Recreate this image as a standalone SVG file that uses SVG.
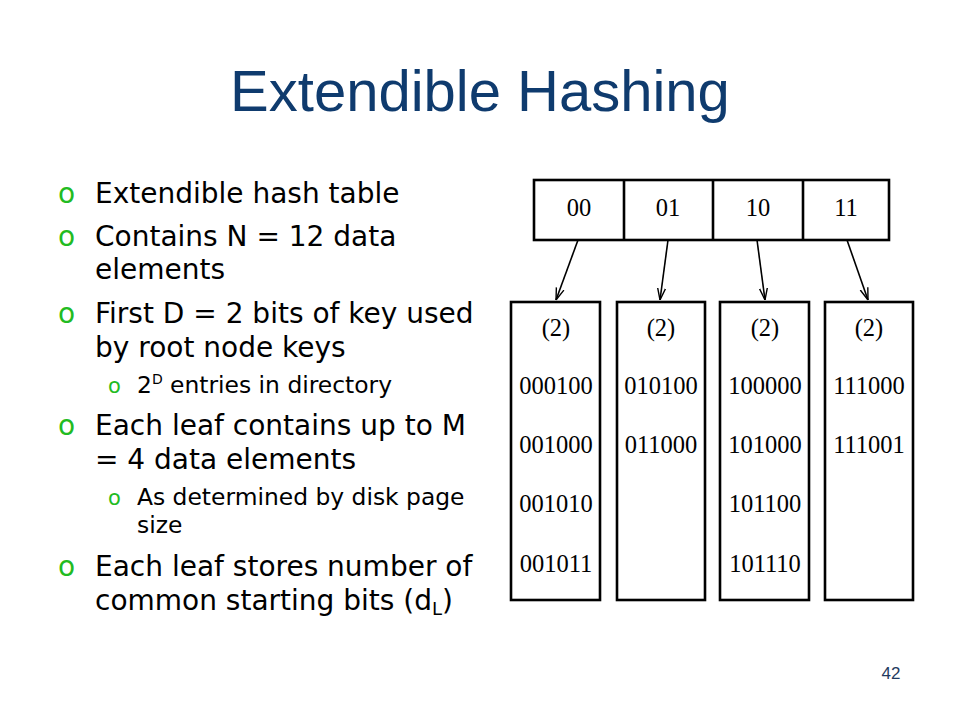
<svg xmlns="http://www.w3.org/2000/svg" width="960" height="720" viewBox="0 0 960 720">
<defs>
<style>
.title{font-family:"Liberation Sans",Arial,sans-serif;font-size:58px;fill:#0f3b6e;text-anchor:middle}
.b{font-family:"DejaVu Sans",Verdana,sans-serif;font-size:28px;fill:#000}
.s{font-family:"DejaVu Sans",Verdana,sans-serif;font-size:23.4px;fill:#000}
.bo{font-family:"DejaVu Sans",Verdana,sans-serif;font-size:28px;fill:#22bb22}
.so{font-family:"DejaVu Sans",Verdana,sans-serif;font-size:21px;fill:#22bb22}
.box{fill:#fff;stroke:#000;stroke-width:2.6}
.t{font-family:"Liberation Serif","Times New Roman",serif;font-size:24.5px;fill:#000;text-anchor:middle}
.conn{stroke:#000;stroke-width:1.6;fill:none}
.pg{font-family:"Liberation Sans",Arial,sans-serif;font-size:17px;fill:#1f3a60;text-anchor:middle}
</style>
<marker id="arr" viewBox="0 0 12 10" refX="12" refY="5" markerWidth="12" markerHeight="10" markerUnits="userSpaceOnUse" orient="auto">
<path d="M0,1 L12,5 L0,9" fill="none" stroke="#000" stroke-width="1.4"/>
</marker>
</defs>
<rect width="960" height="720" fill="#fff"/>
<text class="title" x="480" y="111">Extendible Hashing</text>

<g id="bullets">
<text class="bo" x="58" y="203">o</text><text class="b" x="95" y="203">Extendible hash table</text>
<text class="bo" x="58" y="246">o</text><text class="b" x="95" y="246">Contains N = 12 data</text>
<text class="b" x="95" y="279">elements</text>
<text class="bo" x="58" y="323">o</text><text class="b" x="95" y="323">First D = 2 bits of key used</text>
<text class="b" x="95" y="357">by root node keys</text>
<text class="so" x="108" y="393">o</text><text class="s" x="137" y="393">2<tspan font-size="14" dy="-9">D</tspan><tspan dy="9"> entries in directory</tspan></text>
<text class="bo" x="58" y="435">o</text><text class="b" x="95" y="435">Each leaf contains up to M</text>
<text class="b" x="95" y="469">= 4 data elements</text>
<text class="so" x="108" y="505">o</text><text class="s" x="137" y="505">As determined by disk page</text>
<text class="s" x="137" y="533">size</text>
<text class="bo" x="58" y="576">o</text><text class="b" x="95" y="576">Each leaf stores number of</text>
<text class="b" x="95" y="610">common starting bits (d<tspan font-size="18" dy="5">L</tspan><tspan dy="-5">)</tspan></text>
</g>

<g id="directory">
<rect class="box" x="534" y="180" width="355" height="60"/>
<line class="box" x1="624" y1="180" x2="624" y2="240"/>
<line class="box" x1="713" y1="180" x2="713" y2="240"/>
<line class="box" x1="803" y1="180" x2="803" y2="240"/>
<text class="t" x="579" y="216">00</text>
<text class="t" x="668" y="216">01</text>
<text class="t" x="758" y="216">10</text>
<text class="t" x="846" y="216">11</text>
</g>

<g id="leaf00">
<rect class="box" x="511" y="302" width="89" height="298"/>
<text class="t" x="556" y="336">(2)</text>
<text class="t" x="556" y="394">000100</text>
<text class="t" x="556" y="453">001000</text>
<text class="t" x="556" y="512">001010</text>
<text class="t" x="556" y="572">001011</text>
</g>
<g id="leaf01">
<rect class="box" x="617" y="302" width="88" height="298"/>
<text class="t" x="661" y="336">(2)</text>
<text class="t" x="661" y="394">010100</text>
<text class="t" x="661" y="453">011000</text>
</g>
<g id="leaf10">
<rect class="box" x="720" y="302" width="89" height="298"/>
<text class="t" x="765" y="336">(2)</text>
<text class="t" x="765" y="394">100000</text>
<text class="t" x="765" y="453">101000</text>
<text class="t" x="765" y="512">101100</text>
<text class="t" x="765" y="572">101110</text>
</g>
<g id="leaf11">
<rect class="box" x="825" y="302" width="88" height="298"/>
<text class="t" x="869" y="336">(2)</text>
<text class="t" x="869" y="394">111000</text>
<text class="t" x="869" y="453">111001</text>
</g>

<g id="connectors">
<line class="conn" x1="578" y1="240" x2="556" y2="300" marker-end="url(#arr)"/>
<line class="conn" x1="668" y1="240" x2="660" y2="300" marker-end="url(#arr)"/>
<line class="conn" x1="757" y1="240" x2="765" y2="300" marker-end="url(#arr)"/>
<line class="conn" x1="847" y1="240" x2="868" y2="300" marker-end="url(#arr)"/>
</g>

<text class="pg" x="891" y="679">42</text>
</svg>
